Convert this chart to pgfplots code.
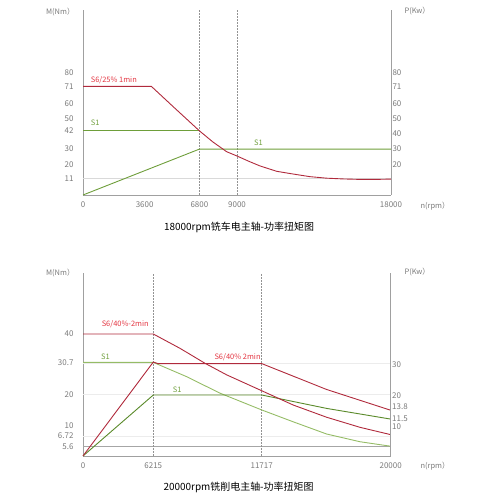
\documentclass[border=0pt]{standalone}
\usepackage{pgfplots}
\pgfplotsset{compat=1.18}
\usepackage{fontspec}
\setmainfont{Noto Sans CJK SC}
\definecolor{redline}{HTML}{B02A3C}
\definecolor{redtext}{HTML}{E33440}
\definecolor{greenline}{HTML}{6E9E3A}
\definecolor{greenlight}{HTML}{95BC66}
\definecolor{greendark}{HTML}{5A8A2A}
\definecolor{axisgray}{HTML}{A0A0A0}
\definecolor{labelgray}{HTML}{7A7A7A}
\pgfplotsset{
  base/.style={scale only axis, anchor=south west, clip=false,
    axis line style={axisgray, line width=0.6bp},
    major tick length=0pt,
    scaled x ticks=false, scaled y ticks=false,
    tick label style={font=\fontsize{8}{9}\selectfont, text=labelgray},
    /pgf/number format/assume math mode=true,
    xticklabel style={yshift=-3bp},
    yticklabel style={xshift=-6bp},
  },
}
\tikzset{lbl/.style={font=\fontsize{7.5}{9}\selectfont, anchor=west},
  vguide/.style={gray!85, line width=0.5bp, dash pattern=on 1.6bp off 1.4bp}}
\begin{document}
\begin{tikzpicture}[x=1bp,y=1bp]
\path[use as bounding box] (0bp,0bp) rectangle (500bp,500bp);
% ---------------- top chart ----------------
\begin{axis}[base, at={(83bp,305bp)}, width=308bp, height=185bp,
  xmin=0, xmax=18000, ymin=0, ymax=121,
  axis x line*=bottom, axis y line*=left,
  xtick={0,3600,6800,9000,18000}, xticklabels={0,3600,6800,9000,18000},
  ytick={11,20,30,42,50,60,71,80}, yticklabels={11,20,30,42,50,60,71,80}]
\addplot[gray!30, line width=0.8bp] coordinates {(0,11) (18000,11)};
\addplot[vguide] coordinates {(6800,0) (6800,121)};
\addplot[vguide] coordinates {(9000,0) (9000,121)};
\addplot[greenline, line width=0.9bp] coordinates {(0,42) (6800,42)};
\addplot[greenline, line width=0.9bp] coordinates {(0,0) (6800,30) (18000,30)};
\addplot[redline, line width=0.9bp] coordinates {(0,71) (4000,71) (5277,57.7) (6800,42) (7600,34.6) (8398,28.3) (9000,25.5) (9700,22) (10344,19) (11320,15.5) (12290,13.7) (13260,12) (14240,11) (15200,10.5) (16190,10.2) (17100,10.2) (18000,10.4)};
\node[lbl, text=redtext] at (axis cs:250,75) {S6/25\% 1min};
\node[lbl, text=greenline] at (axis cs:250,47.5) {S1};
\node[lbl, text=greenline] at (axis cs:9800,34.4) {S1};
\end{axis}
\begin{axis}[base, at={(83bp,305bp)}, width=308bp, height=185bp,
  xmin=0, xmax=18000, ymin=0, ymax=121,
  axis x line=none, axis y line*=right,
  yticklabel style={xshift=4bp},
  ytick={20,30,40,50,60,71,80}, yticklabels={20,30,40,50,60,71,80}]
\end{axis}
\node[font=\fontsize{7.5}{9}\selectfont, text=labelgray, anchor=east] at (78bp,488bp) {M(Nm）};
\node[font=\fontsize{7.5}{9}\selectfont, text=labelgray, anchor=west] at (401bp,489bp) {P(Kw）};
\node[font=\fontsize{7.5}{9}\selectfont, text=labelgray, anchor=west] at (417bp,294bp) {n(rpm）};
\node[font=\fontsize{10}{12}\selectfont] at (239bp,272.7bp) {18000rpm铣车电主轴-功率扭矩图};
% ---------------- bottom chart (x in thousands of rpm) ----------------
\begin{axis}[base, at={(83bp,44bp)}, width=307.7bp, height=183bp,
  x coord trafo/.code={\pgfmathparse{(#1<6.215) ? (#1*11.311) : ((#1<11.717) ? (70.3+(#1-6.215)*19.702) : (178.7+(#1-11.717)*15.574))}},
  y coord trafo/.code={\pgfmathparse{(#1<5.6) ? (#1*0.5714) : ((#1<6.72) ? (3.2+(#1-5.6)*3.1429) : (#1))}},
  xmin=0, xmax=20, ymin=0, ymax=60,
  axis x line*=bottom, axis y line*=left,
  xtick={0,6.215,11.717,20}, xticklabels={0,6215,11717,20000},
  ytick={5.6,6.72,10,20,30.7,40}, yticklabels={5.6,6.72,10,20,30.7,40}]
\addplot[gray!15, line width=0.5bp] coordinates {(0,30.3) (20,30.3)};
\addplot[gray!15, line width=0.5bp] coordinates {(0,20.2) (20,20.2)};
\addplot[gray!15, line width=0.5bp] coordinates {(0,6.68) (20,6.68)};
\addplot[gray!70, line width=0.7bp] coordinates {(0,5.6) (20,5.6)};
\addplot[vguide] coordinates {(6.215,0) (6.215,60)};
\addplot[vguide] coordinates {(11.717,0) (11.717,60)};
\addplot[greenlight, line width=0.9bp] coordinates {(0,30.7) (6.215,30.7) (7.910,26) (9.600,20.6) (11.717,15.1) (13.746,11.2) (15.890,7.2) (18.029,6.07) (20,5.6)};
\addplot[greendark, line width=0.9bp] coordinates {(0,0) (6.215,20) (11.717,20) (15.890,15.6) (20,12.1)};
\addplot[redline, line width=0.9bp] coordinates {(0,40) (6.215,40) (7.570,35.3) (8.839,30.4) (9.940,26.6) (11.717,21.4) (13.746,16.7) (15.890,12.7) (18.029,9.4) (20,7.0)};
\addplot[redline, line width=0.9bp] coordinates {(0,0) (6.215,30.8) (6.450,30.3) (11.717,30.3) (15.890,21.8) (20,15)};
\node[lbl, text=redtext] at (axis cs:1.35,43.2) {S6/40\%-2min};
\node[lbl, text=greenline] at (axis cs:1.3,32.4) {S1};
\node[lbl, text=greenline] at (axis cs:7.027,21.6) {S1};
\node[lbl, text=redtext] at (axis cs:9.144,32.4) {S6/40\% 2min};
\end{axis}
\begin{axis}[base, at={(83bp,44bp)}, width=307.7bp, height=183bp,
  xmin=0, xmax=20, ymin=0, ymax=60,
  axis x line=none, axis y line*=right,
  yticklabel style={xshift=4bp},
  ytick={30,19.7,16.1,12.1,9.6}, yticklabels={30,20,13.8,11.5,10}]
\end{axis}
\node[font=\fontsize{7.5}{9}\selectfont, text=labelgray, anchor=east] at (78bp,227.3bp) {M(Nm）};
\node[font=\fontsize{7.5}{9}\selectfont, text=labelgray, anchor=west] at (401bp,227.7bp) {P(Kw）};
\node[font=\fontsize{7.5}{9}\selectfont, text=labelgray, anchor=west] at (417bp,34bp) {n(rpm）};
\node[font=\fontsize{10}{12}\selectfont] at (238.5bp,12.7bp) {20000rpm铣削电主轴-功率扭矩图};
\end{tikzpicture}
\end{document}
